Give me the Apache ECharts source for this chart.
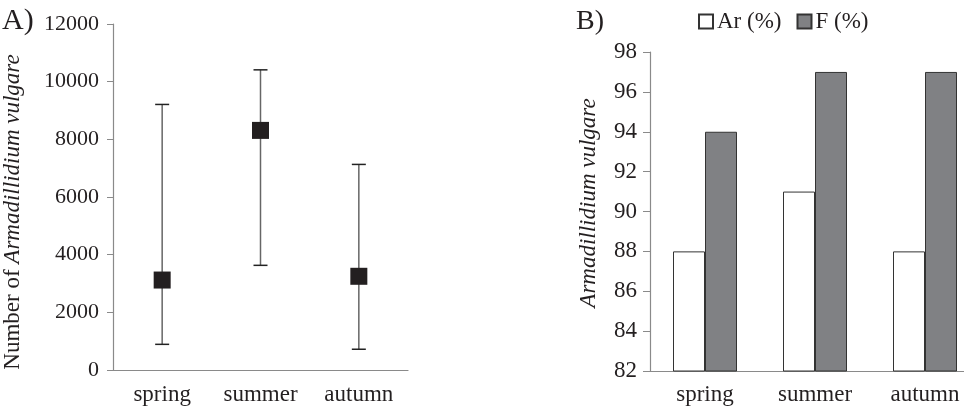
<!DOCTYPE html>
<html>
<head>
<meta charset="utf-8">
<script src="https://cdn.jsdelivr.net/npm/echarts@6/dist/echarts.min.js"></script>
<style>html,body{margin:0;padding:0;background:#fff}#c{width:964px;height:410px}</style>
</head>
<body>
<div id="c"></div>
<script>
const categories = ['spring', 'summer', 'autumn'];
const countMean = [3120, 8310, 3250];
const countLow = [890, 3630, 720];
const countHigh = [9210, 10410, 7130];
const arPct = [88, 91, 88];
const fPct = [94, 97, 97];
const leftTicks = { min: 0, max: 12000, interval: 2000 };
const rightTicks = { min: 82, max: 98, interval: 2 };

const FONT = 'Liberation Serif';
const TXT = '#231f20';
const AXIS = '#8a8a8a';

const chart = echarts.init(document.getElementById('c'), null, { renderer: 'canvas' });

const errData = categories.map((c, i) => [i, countLow[i], countHigh[i]]);

chart.setOption({
  animation: false,
  backgroundColor: '#fff',
  textStyle: { fontFamily: FONT, color: TXT },
  graphic: [
    { type: 'text', left: 2, top: 6, style: { text: 'A)', font: '30px "Liberation Serif"', fill: TXT } },
    { type: 'text', left: 576, top: 8, style: { text: 'B)', font: '28px "Liberation Serif"', fill: TXT } }
  ],
  legend: {
    left: 698, top: 10, padding: 0,
    itemWidth: 14, itemHeight: 14, itemGap: 15,
    icon: 'rect',
    textStyle: { fontFamily: FONT, fontSize: 23, color: TXT, padding: [0, 0, 0, -1] },
    data: ['Ar (%)', 'F (%)']
  },
  grid: [
    { left: 113, top: 24, width: 295, bottom: 40, outerBoundsMode: 'none', containLabel: false },
    { left: 650, top: 52, width: 330, bottom: 39, outerBoundsMode: 'none', containLabel: false }
  ],
  xAxis: [
    {
      gridIndex: 0, type: 'category', data: categories, boundaryGap: true,
      axisLine: { lineStyle: { color: AXIS, width: 1.2 } },
      axisTick: { show: false },
      axisLabel: { fontFamily: FONT, fontSize: 23, color: TXT, margin: 13 }
    },
    {
      gridIndex: 1, type: 'category', data: categories, boundaryGap: true,
      axisLine: { lineStyle: { color: AXIS, width: 1.2 } },
      axisTick: { show: false },
      axisLabel: { fontFamily: FONT, fontSize: 23, color: TXT, margin: 12 }
    }
  ],
  yAxis: [
    {
      gridIndex: 0, type: 'value', min: leftTicks.min, max: leftTicks.max, interval: leftTicks.interval,
      axisLine: { show: true, lineStyle: { color: AXIS, width: 1.2 } },
      axisTick: { show: true, length: 6, lineStyle: { color: AXIS } },
      splitLine: { show: false },
      axisLabel: { fontFamily: FONT, fontSize: 22, color: TXT, margin: 14, formatter: function (v) { return String(v); } },
      name: '{n|Number of }{i|Armadillidium vulgare}',
      nameLocation: 'middle', nameGap: 86, nameRotate: 90,
      nameTextStyle: {
        padding: [0, 30, 3, 0],
        rich: {
          n: { fontFamily: FONT, fontSize: 23, color: TXT },
          i: { fontFamily: FONT, fontSize: 23, color: TXT, fontStyle: 'italic' }
        }
      }
    },
    {
      gridIndex: 1, type: 'value', min: rightTicks.min, max: rightTicks.max, interval: rightTicks.interval,
      axisLine: { show: true, lineStyle: { color: AXIS, width: 1.2 } },
      axisTick: { show: true, length: 7, lineStyle: { color: AXIS } },
      splitLine: { show: false },
      axisLabel: { fontFamily: FONT, fontSize: 23, color: TXT, margin: 13 },
      name: 'Armadillidium vulgare',
      nameLocation: 'middle', nameGap: 50, nameRotate: 90,
      nameTextStyle: { fontFamily: FONT, fontSize: 23, color: TXT, fontStyle: 'italic', padding: [0, 0, 0, 17] }
    }
  ],
  series: [
    {
      type: 'custom', xAxisIndex: 0, yAxisIndex: 0, data: errData, z: 2,
      renderItem: function (params, api) {
        const x = api.value(0);
        const lo = api.coord([x, api.value(1)]);
        const hi = api.coord([x, api.value(2)]);
        const cw = 7;
        return {
          type: 'group',
          children: [
            { type: 'line', shape: { x1: lo[0], y1: lo[1], x2: hi[0], y2: hi[1] }, style: { stroke: '#666', lineWidth: 1.5 } },
            { type: 'line', shape: { x1: lo[0] - cw, y1: lo[1], x2: lo[0] + cw, y2: lo[1] }, style: { stroke: '#222', lineWidth: 1.5 } },
            { type: 'line', shape: { x1: hi[0] - cw, y1: hi[1], x2: hi[0] + cw, y2: hi[1] }, style: { stroke: '#222', lineWidth: 1.5 } }
          ]
        };
      }
    },
    {
      type: 'scatter', xAxisIndex: 0, yAxisIndex: 0, data: countMean, z: 3,
      symbol: 'rect', symbolSize: 17,
      itemStyle: { color: '#231f20', opacity: 1 }
    },
    {
      name: 'Ar (%)', type: 'bar', xAxisIndex: 1, yAxisIndex: 1, data: arPct,
      barWidth: 32, barGap: '0%',
      itemStyle: { color: '#ffffff', borderColor: '#333', borderWidth: 1 }
    },
    {
      name: 'F (%)', type: 'bar', xAxisIndex: 1, yAxisIndex: 1, data: fPct,
      barWidth: 32, barGap: '0%',
      itemStyle: { color: '#808184', borderColor: '#333', borderWidth: 1 }
    }
  ]
});
</script>
</body>
</html>
